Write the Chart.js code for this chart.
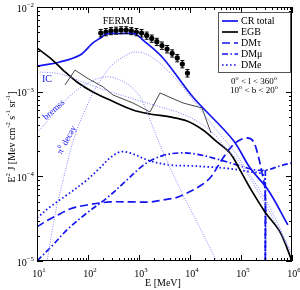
<!DOCTYPE html>
<html>
<head>
<meta charset="utf-8">
<script src="https://cdn.jsdelivr.net/npm/chart.js@4.4.0/dist/chart.umd.min.js"></script>
<style>
  html, body { margin: 0; padding: 0; background: #fff; }
</style>
</head>
<body>
<canvas id="myChart" width="300" height="290"></canvas>
<script>
// ---- data (E in MeV, E^2 J in MeV cm^-2 s^-1 sr^-1) ----
const fermiE   = [178, 224, 282, 355, 447, 562, 708, 891, 1122, 1413, 1778, 2239, 2818, 3548, 4467, 5623, 7079, 8913];
const fermiJ   = [4.93e-3, 5.07e-3, 5.21e-3, 5.28e-3, 5.35e-3, 5.35e-3, 5.21e-3, 5.07e-3, 4.93e-3, 4.61e-3, 4.25e-3, 3.89e-3, 3.51e-3, 3.19e-3, 2.84e-3, 2.50e-3, 2.12e-3, 1.66e-3];
const fermiErr = [0.5e-3, 0.5e-3, 0.5e-3, 0.5e-3, 0.5e-3, 0.5e-3, 0.5e-3, 0.5e-3, 0.5e-3, 0.45e-3, 0.42e-3, 0.38e-3, 0.35e-3, 0.32e-3, 0.28e-3, 0.25e-3, 0.21e-3, 0.17e-3];

const crE = [10, 28, 70, 125, 188, 226, 424, 835, 1200, 2950, 11400, 69700, 1.5e5, 3.4e5, 8.3e5];
const crJ = [2.0e-3, 2.24e-3, 2.71e-3, 3.76e-3, 4.43e-3, 4.80e-3, 4.86e-3, 4.80e-3, 4.07e-3, 2.5e-3, 8.65e-4, 2.69e-4, 1.26e-4, 6.9e-5, 2.67e-5];

const egbE = [10, 18, 32.4, 60.8, 125, 270, 762, 1640, 4050, 8730, 18000, 33800, 60800, 95500, 1.5e5, 2.95e5, 5.8e5, 1e6];
const egbJ = [3.28e-3, 2.5e-3, 1.8e-3, 1.3e-3, 9.9e-4, 7.97e-4, 6.08e-4, 5.45e-4, 5.03e-4, 4.51e-4, 3.53e-4, 2.55e-4, 1.89e-4, 1.19e-4, 7.3e-5, 3.8e-5, 2.21e-5, 1e-5];

const egbThinE = [35.4, 55.6, 95.5, 197, 309, 762, 1644, 2580, 7295, 17200, 25800];
const egbThinJ = [1.20e-3, 1.80e-3, 1.45e-3, 1.14e-3, 9.14e-4, 7.35e-4, 5.76e-4, 9.65e-4, 7.35e-4, 6.42e-4, 3.25e-4];

const icE = [10, 28.2, 125, 582, 1644, 6368, 15700, 30900, 53100, 95500, 2.36e5, 4.64e5, 1e6];
const icJ = [1.71e-3, 1.62e-3, 1.17e-3, 8.66e-4, 7.16e-4, 5.60e-4, 4.27e-4, 3.08e-4, 2.05e-4, 1.44e-4, 6.03e-5, 2.89e-5, 1.18e-5];

const bremE = [10, 18, 28.2, 44.3, 69.7, 109, 172, 270, 424, 667, 1047, 1644, 2580, 4440, 7295, 15700, 33800];
const bremJ = [3.25e-4, 4.89e-4, 6.78e-4, 8.89e-4, 1.106e-3, 1.30e-3, 1.45e-3, 1.49e-3, 1.37e-3, 1.17e-3, 8.66e-4, 4.63e-4, 2.35e-4, 1.13e-4, 6.03e-5, 2.46e-5, 9.76e-6];

const pi0E = [15.7, 19.7, 24.7, 30.9, 40.6, 55.6, 79.8, 120, 188, 309, 531, 835, 1644, 4640, 11450, 28200, 69700, 1.64e5, 3.71e5, 9.14e5];
const pi0J = [9.76e-6, 2.21e-5, 4.59e-5, 7.92e-5, 1.56e-4, 3.08e-4, 5.31e-4, 9.14e-4, 1.45e-3, 2.12e-3, 2.64e-3, 2.94e-3, 2.64e-3, 1.53e-3, 7.98e-4, 3.94e-4, 2.05e-4, 9.57e-5, 4.23e-5, 1.35e-5];

const tauE = [10, 18, 28.2, 44.3, 95.5, 270, 762, 1644, 2958, 5082, 7295, 13710, 24660, 44350, 69660, 95500, 1.31e5, 1.72e5, 2.15e5, 2.58e5, 2.96e5, 3.0e5];
const tauJ = [2.53e-5, 3.14e-5, 3.60e-5, 4.12e-5, 4.59e-5, 4.98e-5, 4.98e-5, 4.98e-5, 5.26e-5, 5.56e-5, 6.03e-5, 7.30e-5, 9.57e-5, 1.65e-4, 2.35e-4, 2.69e-4, 2.84e-4, 2.62e-4, 1.79e-4, 1.10e-4, 6.91e-5, 9e-6];

const muE = [10, 20.6, 38.7, 95.5, 236, 582, 1047, 1644, 3237, 6368, 12530, 33830, 95500, 1.88e5, 3.24e5, 5.82e5, 1e6];
const muJ = [1.0e-5, 1.55e-5, 2.33e-5, 3.70e-5, 5.56e-5, 9.07e-5, 1.26e-4, 1.52e-4, 1.79e-4, 1.89e-4, 1.84e-4, 1.60e-4, 1.33e-4, 1.19e-4, 1.19e-4, 1.33e-4, 1.44e-4];
const muCutE = [3.0e5, 3.0e5];
const muCutJ = [1.19e-4, 9e-6];

const eE = [10, 18, 38.7, 95.5, 172, 270, 424, 667, 1644, 4058, 10000, 24660, 60800, 1.5e5, 2.58e5, 2.96e5, 3.0e5];
const eJ = [3.23e-5, 4.35e-5, 6.03e-5, 9.07e-5, 1.26e-4, 1.65e-4, 1.94e-4, 1.89e-4, 1.52e-4, 1.36e-4, 1.33e-4, 1.29e-4, 1.23e-4, 1.13e-4, 1.07e-4, 9.07e-5, 9e-6];

const xDecades = [1, 2, 3, 4, 5, 6];
const yDecades = [-5, -4, -3, -2];

const BLUE = 'rgb(20,20,240)';
const LIGHT = 'rgb(130,130,255)';
const serif = '"Liberation Serif", "DejaVu Serif", serif';

function pts(xs, ys) {
  return xs.map((x, i) => ({ x: x, y: ys[i] }));
}

function line(label, xs, ys, color, width, dash, tension) {
  return {
    label: label,
    data: pts(xs, ys),
    borderColor: color,
    borderWidth: width,
    borderDash: dash || [],
    borderCapStyle: 'butt',
    pointRadius: 0,
    fill: false,
    tension: tension === undefined ? 0.35 : tension
  };
}

// draw "10" + superscript style text pieces
function rich(ctx, parts, x, y, size, align) {
  let w = 0;
  parts.forEach(p => {
    ctx.font = (p[1] ? size * 0.68 : size) + 'px ' + serif;
    w += ctx.measureText(p[0]).width;
  });
  let cx = x;
  if (align === 'center') cx = x - w / 2;
  if (align === 'right') cx = x - w;
  ctx.textAlign = 'left';
  ctx.textBaseline = 'middle';
  parts.forEach(p => {
    ctx.font = (p[1] ? size * 0.68 : size) + 'px ' + serif;
    ctx.fillText(p[0], cx, p[1] ? y - size * 0.38 : y);
    cx += ctx.measureText(p[0]).width;
  });
}

const decor = {
  id: 'decor',
  afterDatasetsDraw(chart) {
    const ctx = chart.ctx;
    const xs = chart.scales.x, ys = chart.scales.y;
    const a = chart.chartArea;
    ctx.save();
    // error bars
    ctx.strokeStyle = '#000';
    ctx.lineWidth = 1;
    fermiE.forEach((e, i) => {
      const px = xs.getPixelForValue(e);
      const y1 = ys.getPixelForValue(fermiJ[i] - fermiErr[i]);
      const y2 = ys.getPixelForValue(fermiJ[i] + fermiErr[i]);
      ctx.beginPath();
      ctx.moveTo(px, y1); ctx.lineTo(px, y2);
      ctx.moveTo(px - 2, y1); ctx.lineTo(px + 2, y1);
      ctx.moveTo(px - 2, y2); ctx.lineTo(px + 2, y2);
      ctx.stroke();
    });
    ctx.restore();
  },
  afterDraw(chart) {
    const ctx = chart.ctx;
    const xs = chart.scales.x, ys = chart.scales.y;
    const a = chart.chartArea;
    ctx.save();
    // frame
    ctx.strokeStyle = '#000';
    ctx.lineWidth = 1;
    ctx.strokeRect(a.left + 0.5, a.top + 0.5, a.right - a.left - 1, a.bottom - a.top - 1);
    // ticks
    ctx.beginPath();
    xDecades.forEach(d => {
      for (let m = 1; m <= 9; m++) {
        if (d === 6 && m > 1) break;
        const px = Math.round(xs.getPixelForValue(m * Math.pow(10, d))) + 0.5;
        const len = m === 1 ? 6 : 3;
        ctx.moveTo(px, a.bottom); ctx.lineTo(px, a.bottom - len);
        ctx.moveTo(px, a.top); ctx.lineTo(px, a.top + len);
      }
    });
    yDecades.forEach(d => {
      for (let m = 1; m <= 9; m++) {
        if (d === -2 && m > 1) break;
        const py = Math.round(ys.getPixelForValue(m * Math.pow(10, d))) + 0.5;
        const len = m === 1 ? 6 : 3;
        ctx.moveTo(a.left, py); ctx.lineTo(a.left + len, py);
        ctx.moveTo(a.right, py); ctx.lineTo(a.right - len, py);
      }
    });
    ctx.stroke();
    // tick labels
    ctx.fillStyle = '#000';
    xDecades.forEach(d => {
      const px = xs.getPixelForValue(Math.pow(10, d));
      rich(ctx, [['10', false], [String(d), true]], px + 2, a.bottom + 13, 10, 'center');
    });
    yDecades.forEach(d => {
      const py = ys.getPixelForValue(Math.pow(10, d));
      rich(ctx, [['10', false], ['\u2212' + String(-d), true]], a.left - 3, py + 2, 10, 'right');
    });
    // axis titles
    rich(ctx, [['E [MeV]', false]], 163, 283, 10, 'center');
    ctx.save();
    ctx.translate(12, 137);
    ctx.rotate(-Math.PI / 2);
    rich(ctx, [['E', false], ['2', true], [' J [Mev cm', false], ['-2', true], [' s', false], ['-1', true], [' sr', false], ['-1', true], [']', false]], 0, 0, 10, 'center');
    ctx.restore();
    // text labels
    rich(ctx, [['FERMI', false]], 118, 21, 10, 'center');
    ctx.fillStyle = BLUE;
    rich(ctx, [['IC', false]], 47, 79, 10, 'center');
    ctx.save();
    ctx.translate(54, 110);
    ctx.rotate(-42 * Math.PI / 180);
    rich(ctx, [['bremss', false]], 0, 0, 9, 'center');
    ctx.restore();
    ctx.save();
    ctx.translate(67, 140);
    ctx.rotate(-62 * Math.PI / 180);
    rich(ctx, [['\u03c0', false], ['0', true], [' decay', false]], 0, 0, 9, 'center');
    ctx.restore();
    ctx.fillStyle = '#000';
    rich(ctx, [['0', false], ['o', true], [' < l < 360', false], ['o', true]], 254, 82, 9, 'center');
    rich(ctx, [['10', false], ['o', true], [' < b < 20', false], ['o', true]], 254, 91, 9, 'center');
    // legend
    const lx = 218.5, ly = 12.5, lw = 72, lh = 60;
    ctx.fillStyle = '#fff';
    ctx.fillRect(lx, ly, lw, lh);
    ctx.strokeStyle = '#555';
    ctx.lineWidth = 1;
    ctx.strokeRect(lx, ly, lw, lh);
    const items = [
      ['CR total', chart.data.datasets[7]],
      ['EGB', chart.data.datasets[4]],
      ['DM\u03c4', chart.data.datasets[5]],
      ['DM\u03bc', chart.data.datasets[6]],
      ['DMe', chart.data.datasets[8]]
    ];
    items.forEach((it, i) => {
      const y = 21 + i * 11;
      const d = it[1];
      ctx.strokeStyle = d.borderColor;
      ctx.lineWidth = d.borderWidth;
      ctx.setLineDash(d.borderDash);
      ctx.beginPath();
      ctx.moveTo(222, y); ctx.lineTo(238, y);
      ctx.stroke();
      ctx.setLineDash([]);
      ctx.fillStyle = '#000';
      rich(ctx, [[it[0], false]], 241, y, 10, 'left');
    });
    ctx.restore();
  }
};

const ctx = document.getElementById('myChart').getContext('2d');
const myChart = new Chart(ctx, {
  type: 'line',
  data: {
    datasets: [
      line('IC', icE, icJ, LIGHT, 1, [1, 1.5]),
      line('bremss', bremE, bremJ, LIGHT, 1, [1, 1.5]),
      line('pi0', pi0E, pi0J, LIGHT, 1, [1, 1.5]),
      line('EGB band', egbThinE, egbThinJ, '#333', 0.9, [], 0),
      line('EGB', egbE, egbJ, '#000', 1.7),
      line('DMtau', tauE, tauJ, BLUE, 1.7, [8, 4]),
      line('DMmu', muE, muJ, BLUE, 1.7, [6, 2.5, 1.5, 2.5]),
      line('CR total', crE, crJ, BLUE, 1.7),
      line('DMe', eE, eJ, BLUE, 1.7, [1.6, 2.4]),
      line('DMmu cut', muCutE, muCutJ, BLUE, 1.7, [6, 2.5, 1.5, 2.5], 0),
      {
        label: 'FERMI',
        data: pts(fermiE, fermiJ),
        showLine: false,
        pointRadius: 2.6,
        pointBackgroundColor: '#000',
        pointBorderColor: '#000',
        pointBorderWidth: 0
      }
    ]
  },
  options: {
    responsive: false,
    animation: false,
    devicePixelRatio: 1,
    layout: { padding: { left: 37, top: 7, right: 8, bottom: 29 } },
    plugins: { legend: { display: false }, tooltip: { enabled: false } },
    scales: {
      x: { type: 'logarithmic', min: 10, max: 1e6, display: false },
      y: { type: 'logarithmic', min: 1e-5, max: 1e-2, display: false }
    }
  },
  plugins: [decor]
});
</script>
</body>
</html>
